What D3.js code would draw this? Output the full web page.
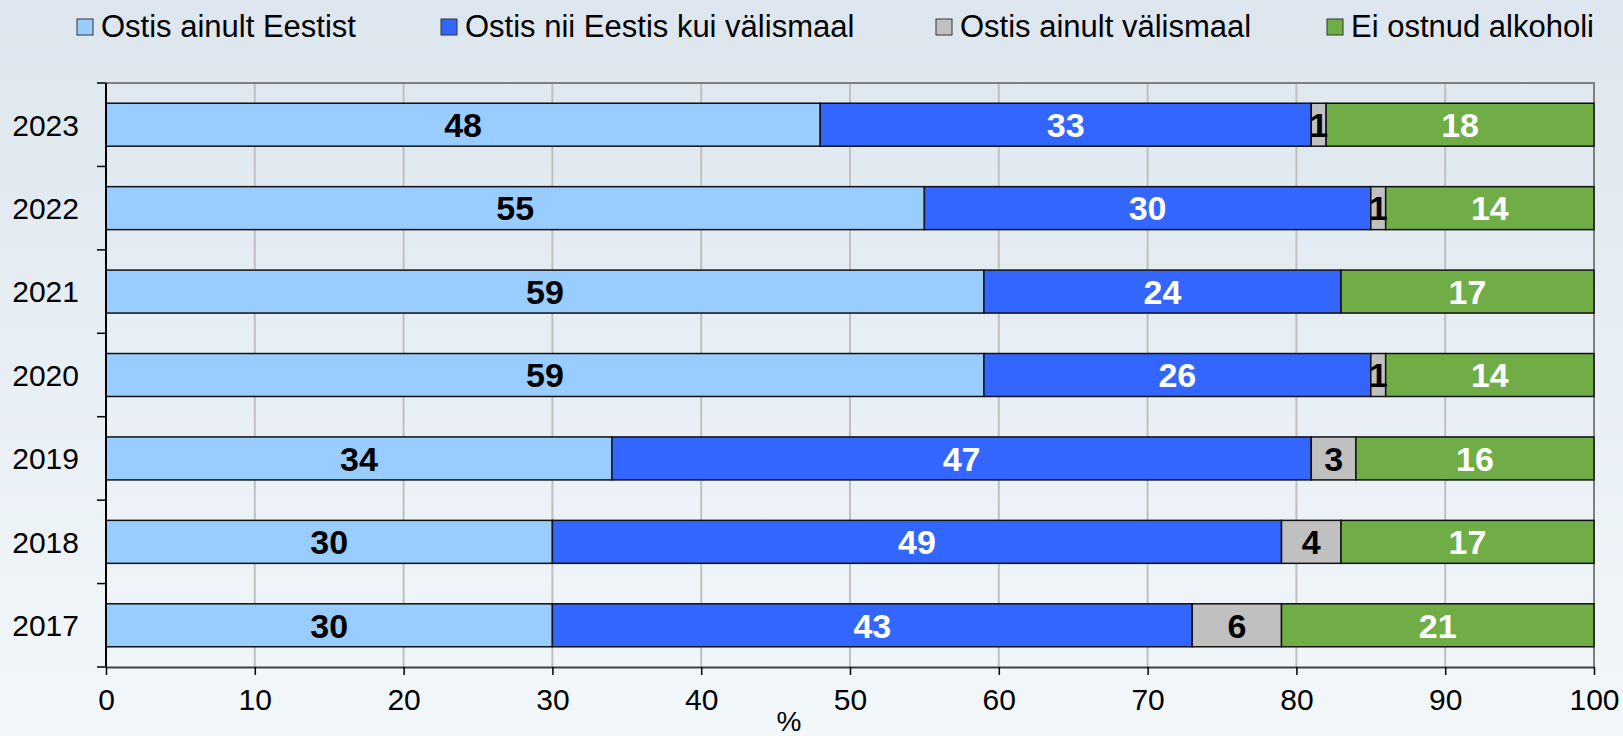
<!DOCTYPE html>
<html>
<head>
<meta charset="utf-8">
<script src="https://cdn.jsdelivr.net/npm/d3@7"></script>
<style>
  html, body { margin: 0; padding: 0; }
  body { width: 1623px; height: 736px; overflow: hidden; font-family: "Liberation Sans", Arial, sans-serif; }
</style>
</head>
<body>
<div id="chart"></div>
<script>
// data
var years = ["2023", "2022", "2021", "2020", "2019", "2018", "2017"];
var seriesNames = ["Ostis ainult Eestist", "Ostis nii Eestis kui välismaal", "Ostis ainult välismaal", "Ei ostnud alkoholi"];
var onlyEstonia   = [48, 55, 59, 59, 34, 30, 30];
var bothPlaces    = [33, 30, 24, 26, 47, 49, 43];
var onlyAbroad    = [1, 1, 0, 1, 3, 4, 6];
var noAlcohol     = [18, 14, 17, 14, 16, 17, 21];
var xTicks = [0, 10, 20, 30, 40, 50, 60, 70, 80, 90, 100];

var colors = ["#99ccff", "#3366ff", "#c0c0c0", "#70ad47"];
var labelColors = ["#000", "#fff", "#000", "#fff"];

// set the dimensions and margins of the graph
var W = 1623, H = 736;
var margin = {top: 83, right: 29, bottom: 69, left: 106},
    width = W - margin.left - margin.right,
    height = H - margin.top - margin.bottom;

var root = d3.select("#chart").append("svg")
    .attr("width", W)
    .attr("height", H);

// background gradient
var grad = root.append("defs").append("linearGradient")
    .attr("id", "bg").attr("x1", 0).attr("y1", 0).attr("x2", 0).attr("y2", 1);
grad.append("stop").attr("offset", "0%").attr("stop-color", "#dde6ee");
grad.append("stop").attr("offset", "100%").attr("stop-color", "#f2f7fa");
root.append("rect").attr("width", W).attr("height", H).attr("fill", "url(#bg)");

var svg = root.append("g")
    .attr("transform", "translate(" + margin.left + "," + margin.top + ")");

// scales
var x = d3.scaleLinear().domain([0, 100]).range([0, width]);
var y = d3.scaleBand().domain(years).range([0, height]).paddingInner(0.485).paddingOuter(0.2425);

// grid lines
svg.append("g")
  .selectAll("line")
  .data(xTicks.slice(1, -1))
  .enter().append("line")
    .attr("x1", function(d) { return x(d); })
    .attr("x2", function(d) { return x(d); })
    .attr("y1", 0).attr("y2", height)
    .attr("stroke", "#c0c0c0")
    .attr("stroke-width", 2);

// plot frame top/right
svg.append("path")
  .attr("d", "M0,0H" + width + "V" + height)
  .attr("fill", "none")
  .attr("stroke", "#808080")
  .attr("stroke-width", 2);

// stacked data
var rows = years.map(function(yr, i) {
  return {year: yr, values: [onlyEstonia[i], bothPlaces[i], onlyAbroad[i], noAlcohol[i]]};
});
var segs = [];
rows.forEach(function(r) {
  var acc = 0;
  r.values.forEach(function(v, k) {
    segs.push({year: r.year, k: k, x0: acc, x1: acc + v, v: v});
    acc += v;
  });
});
segs = segs.filter(function(d) { return d.v > 0; });

svg.append("g")
  .selectAll("rect")
  .data(segs)
  .enter().append("rect")
    .attr("x", function(d) { return x(d.x0); })
    .attr("y", function(d) { return y(d.year); })
    .attr("width", function(d) { return x(d.x1) - x(d.x0); })
    .attr("height", y.bandwidth())
    .attr("fill", function(d) { return colors[d.k]; })
    .attr("stroke", "#111")
    .attr("stroke-width", 1.5);

svg.append("g")
  .selectAll("text")
  .data(segs)
  .enter().append("text")
    .attr("x", function(d) { return x((d.x0 + d.x1) / 2); })
    .attr("y", function(d) { return y(d.year) + y.bandwidth() / 2; })
    .attr("dy", "0.36em")
    .attr("text-anchor", "middle")
    .attr("font-size", "34px")
    .attr("font-weight", "bold")
    .attr("fill", function(d) { return labelColors[d.k]; })
    .text(function(d) { return d.v; });

// Y axis
svg.append("line")
  .attr("x1", 0).attr("x2", 0).attr("y1", 0).attr("y2", height)
  .attr("stroke", "#000").attr("stroke-width", 2);
var step = y.step();
svg.append("g")
  .selectAll("line")
  .data(d3.range(years.length + 1))
  .enter().append("line")
    .attr("x1", -9).attr("x2", 0)
    .attr("y1", function(i) { return i * step; })
    .attr("y2", function(i) { return i * step; })
    .attr("stroke", "#000").attr("stroke-width", 1.5);
svg.append("g")
  .selectAll("text")
  .data(years)
  .enter().append("text")
    .attr("x", -27)
    .attr("y", function(d) { return y(d) + y.bandwidth() / 2; })
    .attr("dy", "0.36em")
    .attr("text-anchor", "end")
    .attr("font-size", "30px")
    .attr("fill", "#000")
    .text(function(d) { return d; });

// X axis
var xAxis = svg.append("g")
  .attr("transform", "translate(0," + height + ")")
  .call(d3.axisBottom(x).tickValues(xTicks).tickSize(8).tickPadding(14).tickSizeOuter(0));
xAxis.select(".domain").attr("stroke", "#404040").attr("stroke-width", 2);
xAxis.selectAll(".tick line").attr("stroke", "#000").attr("stroke-width", 1.5);
xAxis.selectAll("text")
  .attr("font-size", "30px")
  .attr("font-family", "Liberation Sans, Arial, sans-serif")
  .attr("fill", "#000");

root.append("text")
  .attr("x", 789).attr("y", 731)
  .attr("text-anchor", "middle")
  .attr("font-size", "28px")
  .attr("fill", "#000")
  .text("%");

// legend
var legendX = [77, 441, 936, 1327];
var legend = root.append("g").selectAll("g")
  .data(seriesNames)
  .enter().append("g")
    .attr("transform", function(d, i) { return "translate(" + legendX[i] + ",26)"; });
legend.append("rect")
  .attr("x", 0).attr("y", -7)
  .attr("width", 16).attr("height", 16)
  .attr("fill", function(d, i) { return colors[i]; })
  .attr("stroke", "#333").attr("stroke-width", 1);
legend.append("text")
  .attr("x", 24)
  .attr("dy", "0.36em")
  .attr("font-size", "31px")
  .attr("fill", "#000")
  .text(function(d) { return d; });
</script>
</body>
</html>
